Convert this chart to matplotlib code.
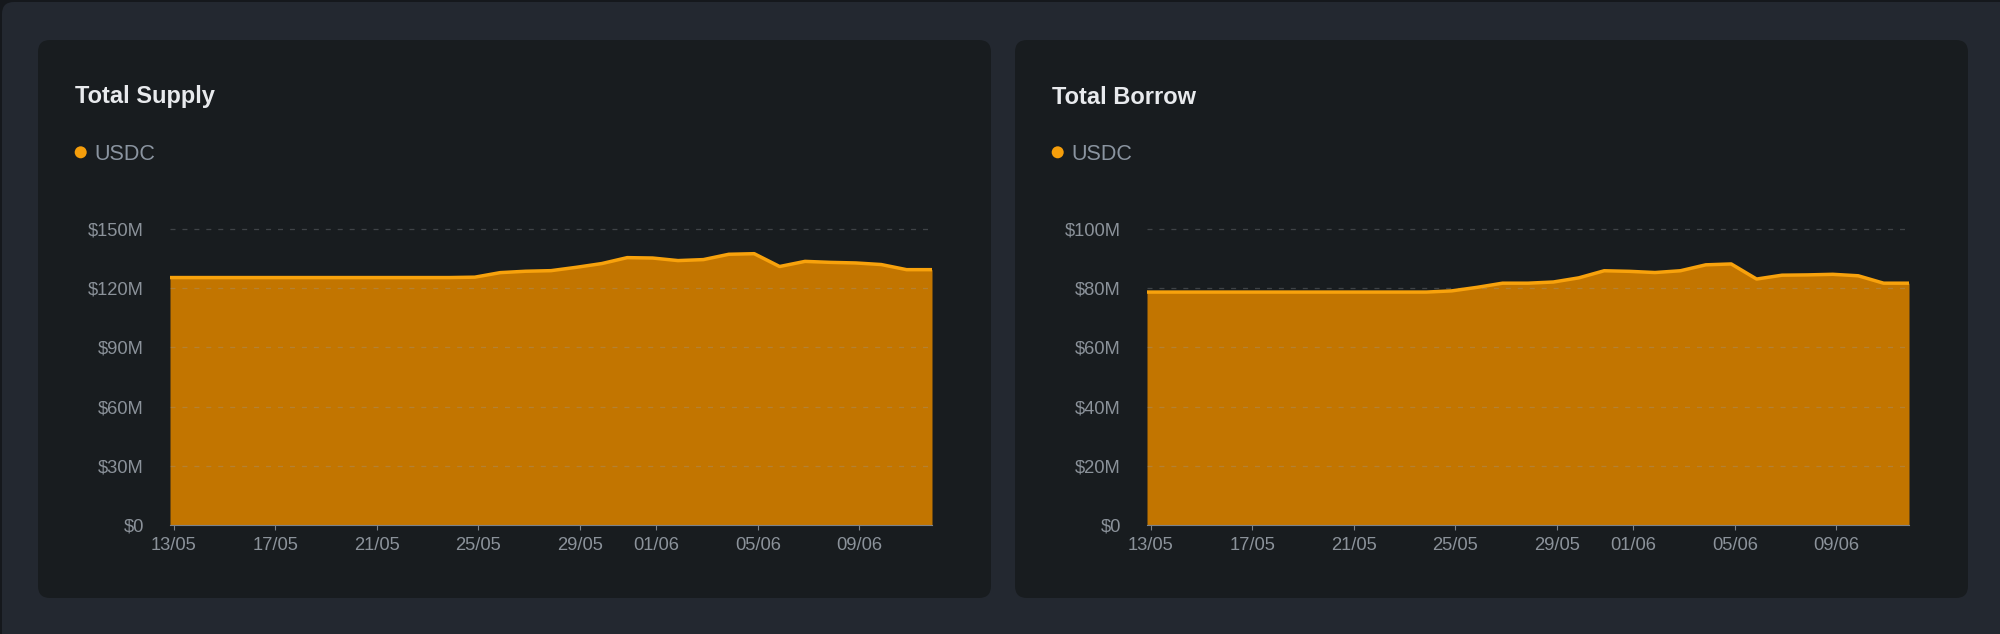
import matplotlib
matplotlib.use('Agg')
import matplotlib.pyplot as plt
from matplotlib.patches import FancyBboxPatch, Circle
import matplotlib.dates as mdates
import pandas as pd

plt.rcParams['font.family'] = ['Liberation Sans', 'DejaVu Sans']
plt.rcParams['lines.scale_dashes'] = False

# ---------------- data ----------------
dates = pd.date_range('2024-05-12 20:40', periods=31, freq='D')
supply_usdc = [125.4, 125.4, 125.4, 125.4, 125.4, 125.4, 125.4, 125.4, 125.4, 125.4,
               125.4, 125.4, 125.6, 127.9, 128.6, 128.9, 130.6, 132.5, 135.5, 135.3,
               134.0, 134.5, 137.2, 137.5, 131.0, 133.6, 133.1, 132.8, 132.0, 129.4, 129.4]
borrow_usdc = [78.7, 78.7, 78.7, 78.7, 78.7, 78.7, 78.7, 78.7, 78.7, 78.7,
               78.7, 78.7, 79.1, 80.3, 81.7, 81.7, 82.1, 83.5, 85.9, 85.7,
               85.3, 85.9, 87.9, 88.2, 83.1, 84.4, 84.5, 84.7, 84.2, 81.7, 81.7]
tick_dates = pd.to_datetime(['2024-05-13', '2024-05-17', '2024-05-21', '2024-05-25',
                             '2024-05-29', '2024-06-01', '2024-06-05', '2024-06-09'])
supply_ticks = [0, 30, 60, 90, 120, 150]
borrow_ticks = [0, 20, 40, 60, 80, 100]
titles = ['Total Supply', 'Total Borrow']
series_name = 'USDC'

# ---------------- style ----------------
W, H = 2000, 634
PAGE = '#15181c'
OUTER = '#232830'
PANEL = '#181c1f'
FILL = '#c27500'
LINE = '#f8a20c'
DOT = '#f59e0b'
TITLE_C = '#e8eaed'
LEG_C = '#8a94a0'
TICK_C = '#8b929a'
AXIS_C = '#7d838a'

fig = plt.figure(figsize=(W / 100, H / 100), dpi=100, facecolor=PAGE)
bg = fig.add_axes([0, 0, 1, 1])
bg.set_xlim(0, W)
bg.set_ylim(H, 0)
bg.axis('off')
bg.add_patch(FancyBboxPatch((2, 2), W + 60, H + 60,
                            boxstyle='round,pad=0,rounding_size=12', fc=OUTER, ec='none'))


def px_axes(x0, y0, x1, y1):
    return fig.add_axes([x0 / W, 1 - y1 / H, (x1 - x0) / W, (y1 - y0) / H])


def fmt_money(v):
    return '$0' if v == 0 else f'${v}M'


panels = [
    (0, titles[0], supply_usdc, supply_ticks),
    (977, titles[1], borrow_usdc, borrow_ticks),
]

for dx, title, values, yticks in panels:
    bg.add_patch(FancyBboxPatch((38 + dx, 40), 953, 558,
                                boxstyle='round,pad=0,rounding_size=12', fc=PANEL, ec='none'))
    bg.text(75 + dx, 103.5, title, fontsize=17, fontweight='bold', color=TITLE_C,
            ha='left', va='baseline')
    bg.add_patch(Circle((80.7 + dx, 152.3), 6.0, color=DOT, lw=0))
    bg.text(94 + dx, 159.5, series_name, fontsize=15.5, color=LEG_C, ha='left', va='baseline')

    ymax = yticks[-1] * 1.02
    ax = px_axes(170 + dx, 223.1, 932 + dx, 525)
    ax.set_facecolor('none')
    ax.fill_between(dates, values, 0, color=FILL, lw=0, zorder=1)
    ax.plot(dates, values, color=LINE, lw=2.5, zorder=4, solid_joinstyle='round',
            solid_capstyle='butt')
    for t in yticks[1:]:
        ax.axhline(t, color='#9aa0a6', alpha=0.3, lw=0.9, ls=(0, (3.6, 5.0)), zorder=3)
    ax.set_xlim(dates[0], dates[-1])
    ax.set_ylim(0, ymax)
    for s in ['top', 'right', 'left']:
        ax.spines[s].set_visible(False)
    ax.spines['bottom'].set_color(AXIS_C)
    ax.spines['bottom'].set_linewidth(0.8)
    ax.spines['bottom'].set_zorder(5)
    ax.set_yticks(yticks)
    ax.set_yticklabels([fmt_money(v) for v in yticks])
    ax.tick_params(axis='y', length=0, pad=18.7, labelsize=13.2, labelcolor=TICK_C)
    ax.set_xticks(tick_dates)
    ax.xaxis.set_major_formatter(mdates.DateFormatter('%d/%m'))
    ax.tick_params(axis='x', length=3.6, width=0.8, color=AXIS_C, pad=5,
                   labelsize=13.2, labelcolor=TICK_C)

fig.savefig('out.png', dpi=100, facecolor=PAGE)
